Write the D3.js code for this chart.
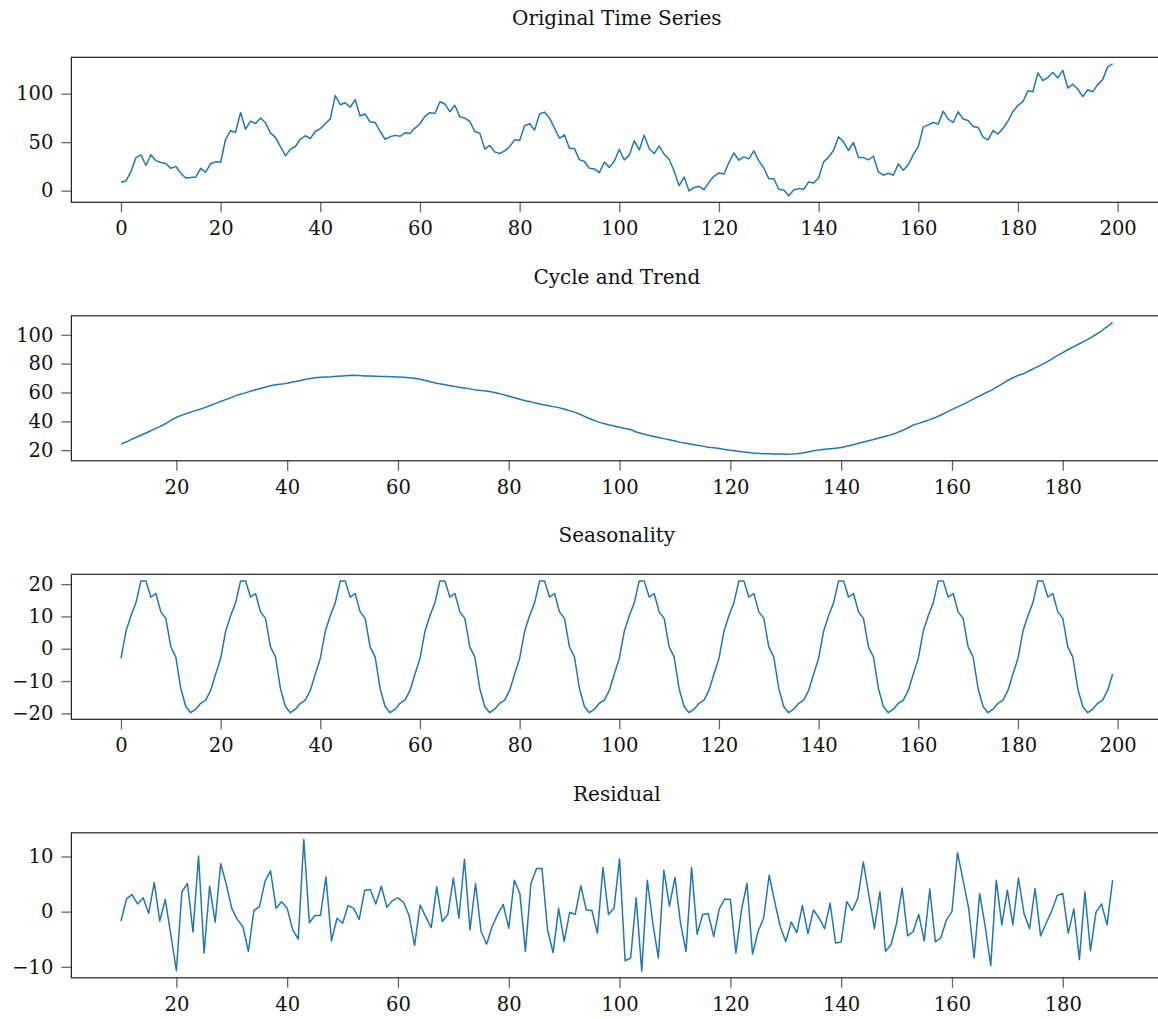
<!DOCTYPE html>
<html>
<head>
<meta charset="utf-8">
<script src="https://cdn.jsdelivr.net/npm/d3@7"></script>
<style>
  body { margin: 0; background: #fff; }
  svg { display: block; font-family: "DejaVu Serif", serif; }
  .tick line { stroke: #666; stroke-width: 1.3; }
  .tick text { fill: #111; font-size: 19.5px; font-family: "DejaVu Serif", serif; }
  .frame { fill: none; stroke: #222; stroke-width: 1.2; }
  .title { font-size: 20px; fill: #111; text-anchor: middle; }
</style>
</head>
<body>
<script>
// ---- data ----
var titles = ["Original Time Series", "Cycle and Trend", "Seasonality", "Residual"];

// original series, t = 0..199
var original = [
  8.6, 10, 19.7, 34, 37, 26, 37, 31, 29, 28,
  23, 25, 18, 13, 13.5, 14, 23, 19, 28, 29.7,
  29.3, 53, 62, 60, 80.7, 63.4, 71.7, 69.3, 75, 70,
  59.3, 55, 45.5, 36, 42.8, 45.5, 53, 56.6, 53.8, 61,
  64, 69, 74, 98, 88.6, 90.7, 86, 93.8, 77, 79,
  70.7, 70.3, 61, 53, 55.5, 57, 56, 59.7, 59, 64.5,
  69, 76.6, 80.4, 79.6, 91.7, 89.3, 81.4, 88, 76.2, 74.8,
  71.4, 61, 59.3, 42.8, 46.6, 40, 38.3, 41, 45.5, 52.4,
  51.7, 67, 69, 62.4, 79, 81, 74.8, 64.5, 54, 57.6,
  43.4, 43.4, 32, 30, 23, 22.4, 18.6, 29.3, 24, 30.3,
  42.4, 31.7, 36.6, 51.4, 42, 57.2, 43.4, 38.3, 45.9, 37.6,
  32.4, 20.3, 5.2, 14, -0.3, 3.1, 4.5, 1, 8.6, 14.8,
  18.3, 17.2, 29, 39, 31.4, 34.8, 32.8, 41, 30.7, 23.4,
  12.4, 12.4, 1.4, 0.7, -5.2, 0.7, 2.1, 1.4, 9, 7.9,
  13.1, 29.7, 34.5, 41.7, 55.5, 50.3, 41.4, 49.7, 34.1, 34.1,
  31.7, 35.5, 19.3, 15.9, 17.9, 15.9, 27.6, 21, 26.9, 37.2,
  45.5, 65.5, 67.9, 70.3, 68.6, 82, 73.8, 70.3, 81.4, 73.8,
  72.4, 66.2, 65.2, 55.2, 52.4, 62, 58.3, 64.1, 72, 81.7,
  87.9, 91.7, 103.1, 102, 121.4, 113.4, 116.6, 122, 116.2, 124.1,
  105.9, 109.7, 104.8, 96.9, 104.1, 102, 109.3, 114.5, 127.6, 130.7
];

// cycle and trend, t = 10..189
var trendStart = 10;
var trend = [
  24.2, 25.8, 27.7, 29.3, 31, 32.8, 34.6, 36.3, 38.3, 40.6,
  42.8, 44.3, 45.6, 46.9, 48, 49.3, 50.8, 52.3, 53.8, 55.2,
  56.6, 58.2, 59.2, 60.4, 61.6, 62.6, 63.6, 64.6, 65.4, 65.8,
  66.4, 67.2, 68, 68.8, 69.6, 70.2, 70.5, 70.7, 70.9, 71.2,
  71.5, 71.8, 72, 71.7, 71.5, 71.5, 71.3, 71.1, 71, 70.9,
  70.8, 70.5, 70.2, 69.8, 69.2, 68.3, 67.3, 66.4, 65.7, 65,
  64.4, 63.7, 63.1, 62.5, 61.8, 61.3, 61, 60.4, 59.5, 58.5,
  57.5, 56.4, 55.3, 54.3, 53.5, 52.6, 51.7, 51, 50.2, 49.5,
  48.5, 47.3, 46.2, 44.6, 42.8, 41.3, 39.8, 38.6, 37.6, 36.8,
  35.9, 35.1, 34.3, 32.6, 31.5, 30.5, 29.7, 28.8, 28, 27.2,
  26.3, 25.4, 24.8, 24.1, 23.4, 22.8, 22.1, 21.6, 21.1, 20.5,
  19.9, 19.4, 18.9, 18.5, 18.1, 17.8, 17.6, 17.5, 17.4, 17.3,
  17.2, 17.3, 17.6, 18.1, 18.8, 19.6, 20.2, 20.6, 21, 21.4,
  21.8, 22.7, 23.6, 24.6, 25.6, 26.6, 27.6, 28.6, 29.6, 30.6,
  32, 33.6, 35.4, 37.4, 38.6, 39.9, 41.2, 42.6, 44.4, 46.2,
  48.1, 50, 51.8, 53.7, 55.7, 57.7, 59.6, 61.3, 63.5, 65.8,
  68.2, 70.2, 71.9, 73.2, 75.1, 77.1, 78.9, 80.9, 83.2, 85.5,
  87.7, 89.8, 91.8, 93.8, 95.8, 97.9, 100.2, 102.8, 105.6, 108.6
];

// seasonality, t = 0..199
var seasonal = [
  -3, 5.4, 10.2, 14.2, 21, 21, 16, 17.1, 11.4, 9.4, 0.6, -2.5, -12.3, -17.9, -19.8, -18.7, -16.9, -15.9, -12.9, -7.8,
  -3, 5.4, 10.2, 14.2, 21, 21, 16, 17.1, 11.4, 9.4, 0.6, -2.5, -12.3, -17.9, -19.8, -18.7, -16.9, -15.9, -12.9, -7.8,
  -3, 5.4, 10.2, 14.2, 21, 21, 16, 17.1, 11.4, 9.4, 0.6, -2.5, -12.3, -17.9, -19.8, -18.7, -16.9, -15.9, -12.9, -7.8,
  -3, 5.4, 10.2, 14.2, 21, 21, 16, 17.1, 11.4, 9.4, 0.6, -2.5, -12.3, -17.9, -19.8, -18.7, -16.9, -15.9, -12.9, -7.8,
  -3, 5.4, 10.2, 14.2, 21, 21, 16, 17.1, 11.4, 9.4, 0.6, -2.5, -12.3, -17.9, -19.8, -18.7, -16.9, -15.9, -12.9, -7.8,
  -3, 5.4, 10.2, 14.2, 21, 21, 16, 17.1, 11.4, 9.4, 0.6, -2.5, -12.3, -17.9, -19.8, -18.7, -16.9, -15.9, -12.9, -7.8,
  -3, 5.4, 10.2, 14.2, 21, 21, 16, 17.1, 11.4, 9.4, 0.6, -2.5, -12.3, -17.9, -19.8, -18.7, -16.9, -15.9, -12.9, -7.8,
  -3, 5.4, 10.2, 14.2, 21, 21, 16, 17.1, 11.4, 9.4, 0.6, -2.5, -12.3, -17.9, -19.8, -18.7, -16.9, -15.9, -12.9, -7.8,
  -3, 5.4, 10.2, 14.2, 21, 21, 16, 17.1, 11.4, 9.4, 0.6, -2.5, -12.3, -17.9, -19.8, -18.7, -16.9, -15.9, -12.9, -7.8,
  -3, 5.4, 10.2, 14.2, 21, 21, 16, 17.1, 11.4, 9.4, 0.6, -2.5, -12.3, -17.9, -19.8, -18.7, -16.9, -15.9, -12.9, -7.8
];

// residual, t = 10..189
var residStart = 10;
var residual = [
  -1.7, 2.3, 3.1, 1.4, 2.5, -0.3, 5.3, -1.7, 2.2, -4.2,
  -10.7, 3.6, 5.1, -3.7, 10.1, -7.5, 4.6, -1.9, 8.7, 5,
  0.6, -1.4, -2.7, -7.2, 0.2, 0.9, 5.5, 7.4, 0.6, 1.8,
  0.6, -3.3, -5, 13.1, -2, -0.7, -0.7, 6.3, -5.3, -1.2,
  -2.1, 1.1, 0.6, -1.4, 3.9, 4, 1.4, 4.6, 0.8, 2,
  2.5, 1.7, -0.7, -6.1, 1.2, -0.9, -2.9, 4.5, -1.8, -0.5,
  6.1, -1.2, 9.5, -3.3, 5.1, -3.6, -5.9, -2.7, -0.5, 1.3,
  -3, 5.7, 3.3, -7.2, 5.1, 7.8, 7.8, -3.3, -7.4, 0.6,
  -5.4, -0.1, -0.5, 4.7, 0.3, 0.2, -3.9, 8, -0.5, 0.6,
  9.6, -8.9, -8.4, 2.5, -10.8, 5.7, -2.1, -8.4, 7.5, 1,
  6.2, -2.1, -7.2, 8, -4.1, -0.5, -0.4, -4.5, 0.5, 2.3,
  2.2, -7.5, 0.3, 5.1, -7.7, -3.6, -1.2, 6.6, 1.8, -2.7,
  -5.4, -1.9, -3.8, 1.1, -4, 0.3, -1.1, -3.1, 1.5, -5.7,
  -5.5, 1.8, 0.2, 2.4, 9, 3, -3.1, 3.6, -7.2, -6,
  -2.1, 4.3, -4.4, -3.6, -0.5, -5.3, 4.1, -5.5, -4.7, -1.5,
  0, 10.7, 5.7, 0.7, -8.4, 3.3, -2.7, -9.8, 5.7, -2.4,
  3.9, -2.4, 6.1, -0.3, -3.1, 4.2, -4.4, -2.1, 0.1, 2.9,
  3.3, -3.9, 0.5, -8.7, 3.6, -7.1, -0.1, 1.4, -2.4, 5.7
];

// tick values
var xTicksFull = [0, 20, 40, 60, 80, 100, 120, 140, 160, 180, 200];
var xTicksInner = [20, 40, 60, 80, 100, 120, 140, 160, 180];
var yTicksOriginal = [0, 50, 100];
var yTicksTrend = [20, 40, 60, 80, 100];
var yTicksSeasonal = [-20, -10, 0, 10, 20];
var yTicksResidual = [-10, 0, 10];

// ---- layout ----
var width = 1158, height = 1019;
var axLeft = 71.4, axRight = 1162.2; // right spine falls just outside the picture
var axTops = [57.3, 315.8, 574.3, 832.8];
var axHeight = 145;

// pair each value with its time index
function toPoints(values, start) {
    return values.map(function (v, i) { return { t: i + start, v: v }; });
}

var panels = [
    { title: titles[0], pts: toPoints(original, 0), xTicks: xTicksFull, yTicks: yTicksOriginal },
    { title: titles[1], pts: toPoints(trend, trendStart), xTicks: xTicksInner, yTicks: yTicksTrend },
    { title: titles[2], pts: toPoints(seasonal, 0), xTicks: xTicksFull, yTicks: yTicksSeasonal },
    { title: titles[3], pts: toPoints(residual, residStart), xTicks: xTicksInner, yTicks: yTicksResidual }
];

var svg = d3.select("body").append("svg")
    .attr("width", width)
    .attr("height", height);

// matplotlib style 5% margins
function padded(ext) {
    var m = (ext[1] - ext[0]) * 0.05;
    return [ext[0] - m, ext[1] + m];
}

panels.forEach(function (p, k) {
    var top = axTops[k];
    var x = d3.scaleLinear()
        .domain(padded(d3.extent(p.pts, function (d) { return d.t; })))
        .range([axLeft, axRight]);
    var y = d3.scaleLinear()
        .domain(padded(d3.extent(p.pts, function (d) { return d.v; })))
        .range([top + axHeight, top]);

    var g = svg.append("g").attr("class", "panel");

    // title
    g.append("text")
        .attr("class", "title")
        .attr("x", (axLeft + axRight) / 2)
        .attr("y", top - 32)
        .text(p.title);

    // axes (drop d3's own font settings so the css applies)
    var xAxis = g.append("g")
        .attr("transform", "translate(0," + (top + axHeight) + ")")
        .call(d3.axisBottom(x).tickValues(p.xTicks).tickSize(10).tickPadding(9));
    var yAxis = g.append("g")
        .attr("transform", "translate(" + axLeft + ",0)")
        .call(d3.axisLeft(y).tickValues(p.yTicks).tickSize(10).tickPadding(8));
    [xAxis, yAxis].forEach(function (a) {
        a.attr("font-family", null).attr("font-size", null);
        a.select(".domain").remove();
    });

    // series line
    var line = d3.line()
        .x(function (d) { return x(d.t); })
        .y(function (d) { return y(d.v); });
    g.append("path")
        .datum(p.pts)
        .attr("d", line)
        .attr("fill", "none")
        .attr("stroke", "#1f77b4")
        .attr("stroke-width", 1.5)
        .attr("stroke-linejoin", "round");

    // frame
    g.append("rect")
        .attr("class", "frame")
        .attr("x", axLeft)
        .attr("y", top)
        .attr("width", axRight - axLeft)
        .attr("height", axHeight);
});
</script>
</body>
</html>
